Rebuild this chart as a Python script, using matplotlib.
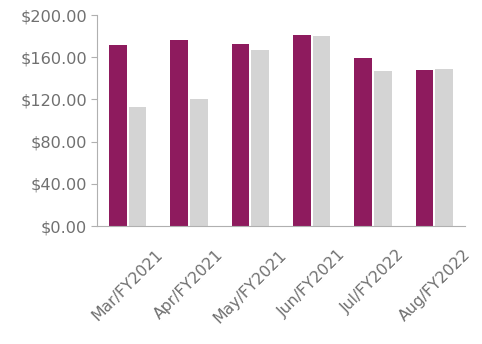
import matplotlib
matplotlib.use("Agg")
import matplotlib.pyplot as plt
import numpy as np
from matplotlib.ticker import FuncFormatter

categories = ["Mar/FY2021", "Apr/FY2021", "May/FY2021", "Jun/FY2021", "Jul/FY2022", "Aug/FY2022"]
series_a = [172, 176, 173, 181, 159, 148]
series_b = [113, 120, 167, 180, 147, 149]
y_ticks = [0, 40, 80, 120, 160, 200]

plt.rcParams["font.family"] = ["DejaVu Sans"]

fig = plt.figure(figsize=(4.82, 3.44), dpi=100)
ax = fig.add_axes([0.201, 0.343, 0.764, 0.613])

x = np.arange(len(categories))
w = 0.29
gap = 0.016
ax.bar(x - w / 2 - gap, series_a, width=w, color="#8E1B5E")
ax.bar(x + w / 2 + gap, series_b, width=w, color="#D4D4D4")

ax.set_xlim(-0.5, len(categories) - 0.5)
ax.set_ylim(0, 200)
ax.set_yticks(y_ticks)
ax.yaxis.set_major_formatter(FuncFormatter(lambda v, p: f"${v:,.2f}"))

ax.set_xticks(x)
ax.set_xticklabels(categories, rotation=45, ha="center", va="top")

for side in ("top", "right"):
    ax.spines[side].set_visible(False)
for side in ("left", "bottom"):
    ax.spines[side].set_color("#b0b0b0")
    ax.spines[side].set_linewidth(0.8)

ax.tick_params(axis="y", length=4, width=0.8, color="#b0b0b0", labelsize=11.6,
               labelcolor="#707070", pad=3)
ax.tick_params(axis="x", length=0, labelsize=11.3, labelcolor="#707070", pad=15)

fig.savefig("out.png", dpi=100)
